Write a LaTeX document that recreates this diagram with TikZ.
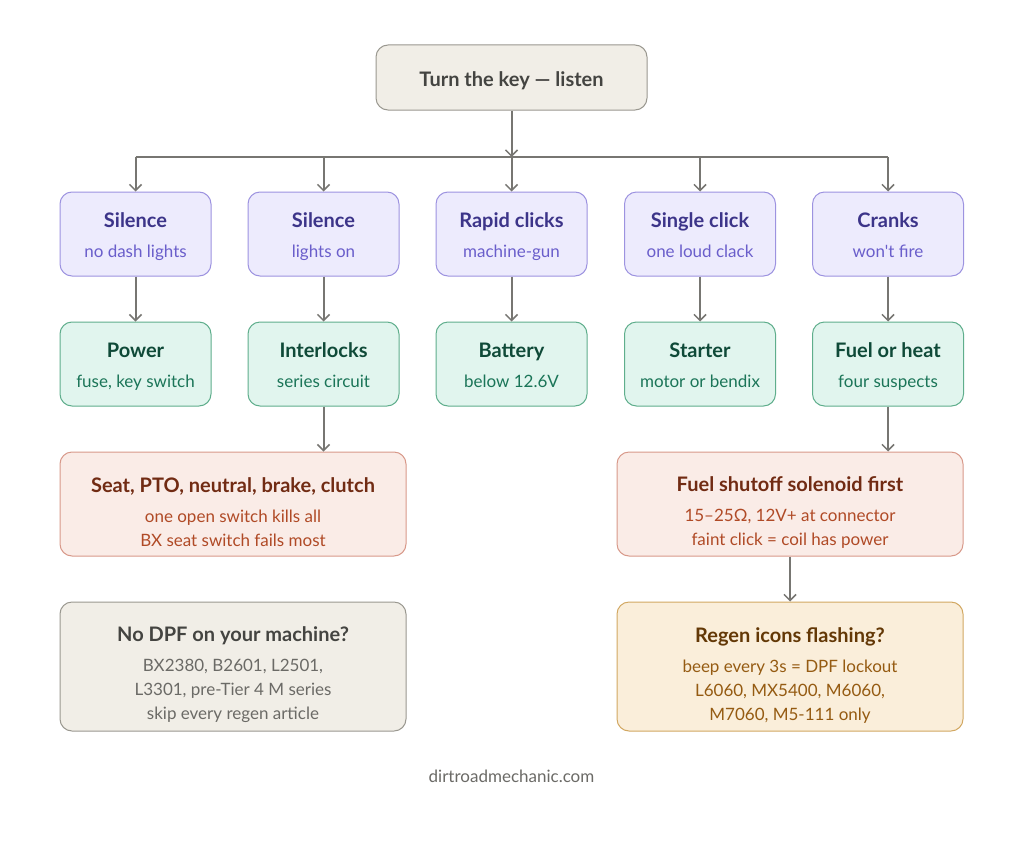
\documentclass[tikz,border=0pt]{standalone}
\usepackage{fontspec}
\setmainfont{Lato}
\usetikzlibrary{arrows.meta}

\definecolor{keyfill}{HTML}{F1EEE7}
\definecolor{keyline}{HTML}{9A9890}
\definecolor{keytext}{HTML}{444441}
\definecolor{keysub}{HTML}{6B6A66}
\definecolor{sndfill}{HTML}{EDEBFD}
\definecolor{sndline}{HTML}{9D93E0}
\definecolor{sndhead}{HTML}{3C3489}
\definecolor{sndsub}{HTML}{6A5ECB}
\definecolor{chkfill}{HTML}{E1F5EE}
\definecolor{chkline}{HTML}{5FAE8C}
\definecolor{chkhead}{HTML}{0F4A38}
\definecolor{chksub}{HTML}{1B7558}
\definecolor{fixfill}{HTML}{FAECE7}
\definecolor{fixline}{HTML}{D8998A}
\definecolor{fixhead}{HTML}{712B13}
\definecolor{fixsub}{HTML}{B04A26}
\definecolor{dpffill}{HTML}{FAEEDA}
\definecolor{dpfline}{HTML}{D2A862}
\definecolor{dpfhead}{HTML}{633806}
\definecolor{dpfsub}{HTML}{955B12}
\definecolor{wire}{HTML}{777672}

\newlength\hdlift
\newcommand{\hd}[2]{{\color{#1}\fontsize{20}{24}\selectfont\bfseries\rule{0pt}{\dimexpr16pt+\hdlift\relax}#2}}

\tikzset{
  box/.style={rounded corners=12pt, line width=1pt, align=center, inner sep=0pt,
    font=\fontsize{17}{24}\selectfont},
  lift/.style={execute at begin node={\setlength\hdlift{#1}}},
  small/.style={box, lift=5pt, minimum width=151pt, minimum height=84pt,
    execute at end node={\rule[-5pt]{0pt}{5pt}}},
  wide/.style={box, lift=16pt, minimum width=346pt},
  sound/.style={small, fill=sndfill, draw=sndline, text=sndsub},
  check/.style={small, fill=chkfill, draw=chkline, text=chksub},
  fix/.style={wide, minimum height=104pt, fill=fixfill, draw=fixline, text=fixsub},
  nodpf/.style={wide, minimum height=129pt, fill=keyfill, draw=keyline, text=keysub},
  regen/.style={wide, minimum height=129pt, fill=dpffill, draw=dpfline, text=dpfsub},
  arr/.style={draw=wire, line width=2pt, -{Straight Barb[length=6pt,width=12pt,line width=1.5pt]}},
  bus/.style={draw=wire, line width=1.2pt}
}

\begin{document}
\begin{tikzpicture}[x=1pt,y=-1pt]
  \fill[white] (0,0) rectangle (1024,843);
  \useasboundingbox (0,0) rectangle (1024,843);

  % start
  \node[box, lift=5pt, minimum width=271pt, minimum height=65pt, fill=keyfill, draw=keyline]
    (key) at (511.5,77.5) {\hd{keytext}{Turn the key — listen}};

  % what you hear
  \node[sound] (s1) at (135.5,234) {\hd{sndhead}{Silence}\\[6pt]no dash lights};
  \node[sound] (s2) at (323.5,234) {\hd{sndhead}{Silence}\\[6pt]lights on};
  \node[sound] (s3) at (511.5,234) {\hd{sndhead}{Rapid clicks}\\[6pt]machine-gun};
  \node[sound] (s4) at (700,234)   {\hd{sndhead}{Single click}\\[6pt]one loud clack};
  \node[sound] (s5) at (888,234)   {\hd{sndhead}{Cranks}\\[6pt]won\textquotesingle t fire};

  % what to check
  \node[check] (c1) at (135.5,364) {\hd{chkhead}{Power}\\[6pt]fuse, key switch};
  \node[check] (c2) at (323.5,364) {\hd{chkhead}{Interlocks}\\[6pt]series circuit};
  \node[check] (c3) at (511.5,364) {\hd{chkhead}{Battery}\\[6pt]below 12.6V};
  \node[check] (c4) at (700,364)   {\hd{chkhead}{Starter}\\[6pt]motor or bendix};
  \node[check] (c5) at (888,364)   {\hd{chkhead}{Fuel or heat}\\[6pt]four suspects};

  \node[fix] (seat) at (233,504)
    {\hd{fixhead}{Seat, PTO, neutral, brake, clutch}\\[6pt]one open switch kills all\\BX seat switch fails most};
  \node[fix] (sol) at (790,504)
    {\hd{fixhead}{Fuel shutoff solenoid first}\\[6pt]15–25Ω, 12V+ at connector\\faint click = coil has power};

  \node[nodpf] (dpf) at (233,666.5)
    {\hd{keytext}{No DPF on your machine?}\\[6pt]BX2380, B2601, L2501,\\L3301, pre-Tier 4 M series\\skip every regen article};
  \node[regen] (rg) at (790,666.5)
    {\hd{dpfhead}{Regen icons flashing?}\\[6pt]beep every 3s = DPF lockout\\L6060, MX5400, M6060,\\M7060, M5-111 only};

  \node[text=keysub, font=\fontsize{17}{20}\selectfont] (site) at (511.5,776) {dirtroadmechanic.com};

  % connectors
  \coordinate (busL) at (135.5,157);
  \coordinate (busR) at (888,157);
  \draw[bus] (busL) -- (busR);
  \draw[arr] (key) -- (key |- busL);
  \foreach \n in {s1,s2,s3,s4,s5}
    \draw[arr] (\n |- busL) -- (\n);
  \foreach \a/\b in {s1/c1,s2/c2,s3/c3,s4/c4,s5/c5,c2/seat,c5/sol,sol/rg}
    \draw[arr] (\a) -- (\a |- \b.north);
\end{tikzpicture}
\end{document}
